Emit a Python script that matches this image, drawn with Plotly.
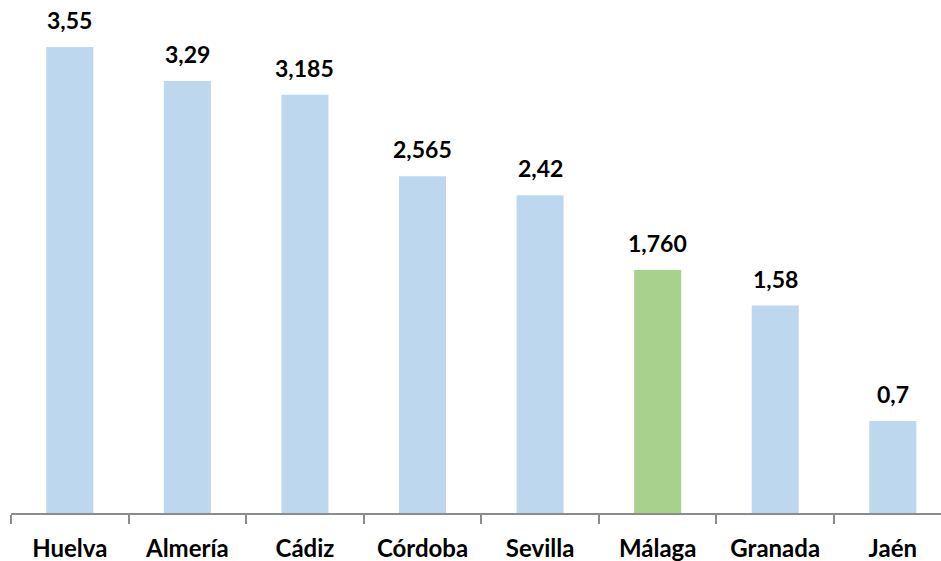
import plotly.graph_objects as go

categories = ["Huelva", "Almería", "Cádiz", "Córdoba", "Sevilla", "Málaga", "Granada", "Jaén"]
# bar heights as drawn in the picture (Málaga's bar is drawn a little taller than its label)
values = [3.55, 3.29, 3.185, 2.565, 2.42, 1.85, 1.58, 0.7]
value_labels = ["3,55", "3,29", "3,185", "2,565", "2,42", "1,760", "1,58", "0,7"]
highlight = "Málaga"

BLUE = "#BDD7EE"
GREEN = "#A9D18E"
colors = [GREEN if c == highlight else BLUE for c in categories]

FONT = "Lato, 'Open Sans', sans-serif"

fig = go.Figure()
fig.add_trace(go.Bar(
    x=categories, y=values, marker=dict(color=colors, line=dict(width=0)),
    width=0.4, hoverinfo="x+y",
))

for c, v, t in zip(categories, values, value_labels):
    fig.add_annotation(x=c, y=v, text=f"<b>{t}</b>", showarrow=False,
                       yanchor="bottom", yshift=11,
                       font=dict(family=FONT, size=23, color="#000000"))

fig.update_layout(
    width=941, height=561,
    margin=dict(l=11, r=0, t=0, b=48),
    paper_bgcolor="white", plot_bgcolor="white",
    showlegend=False,
    font=dict(family=FONT, size=23, color="#000000"),
    xaxis=dict(
        range=[-0.5, 7.41], showgrid=False, zeroline=False,
        showline=True, linecolor="#8C8C8C", linewidth=1.5,
        ticks="outside", tickson="boundaries", ticklen=9, tickcolor="#8C8C8C", tickwidth=1.5,
        tickfont=dict(family=FONT, size=24, color="#000000"),
        ticklabelstandoff=13,
        tickvals=categories, ticktext=[f"<b>{c}</b>" for c in categories],
        automargin=False,
    ),
    yaxis=dict(range=[0, 3.907], visible=False, showgrid=False, zeroline=False),
)

fig.write_html("out.html", config={"displayModeBar": False},
               post_script="document.body.style.margin='0';document.body.style.overflow='hidden';")
